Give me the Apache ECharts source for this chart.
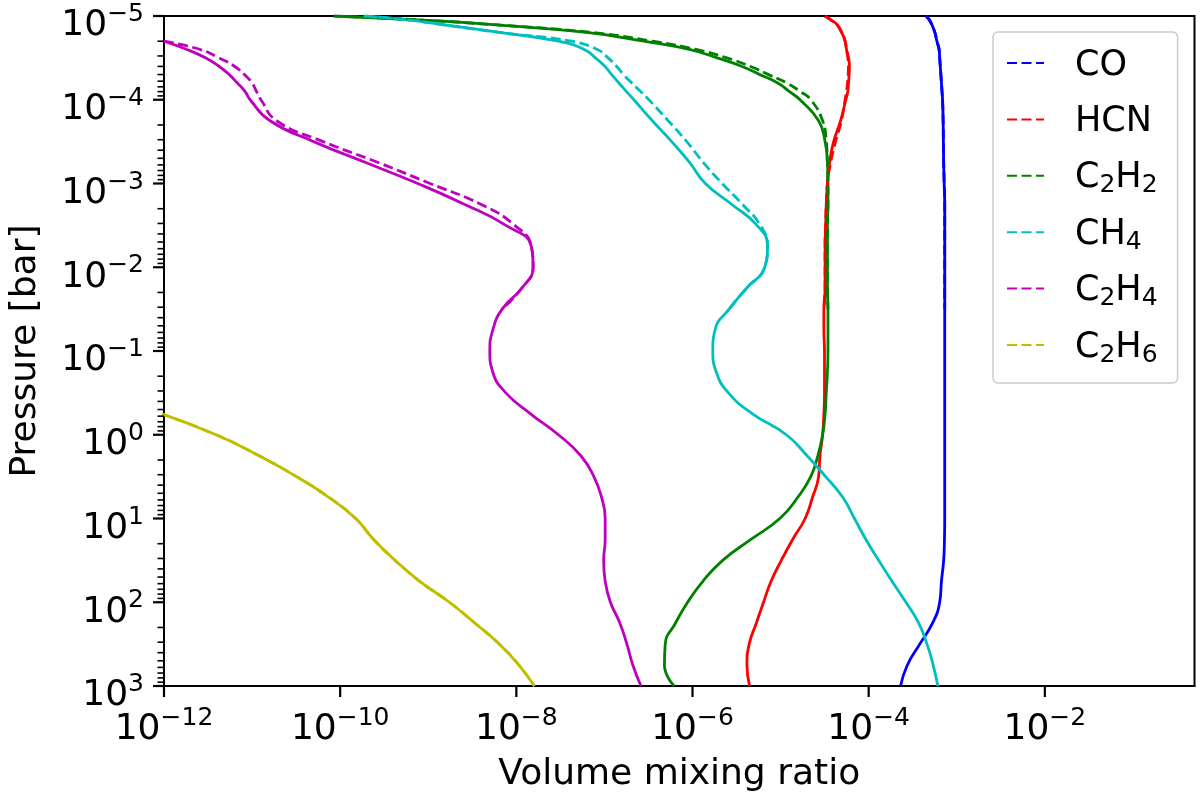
<!DOCTYPE html>
<html>
<head>
<meta charset="utf-8">
<script src="https://cdn.jsdelivr.net/npm/echarts@6/dist/echarts.min.js"></script>
<style>
  html, body { margin: 0; padding: 0; background: #fff; }
  #chart { width: 1200px; height: 798px; }
</style>
</head>
<body>
<div id="chart"></div>
<script>
// pressure levels [bar], shared by every profile (top of atmosphere first)
var pressure = [1e-5, 1.12e-5, 1.26e-5, 1.58e-5, 2.0e-5, 2.51e-5, 3.16e-5, 3.98e-5, 5.01e-5, 6.31e-5, 7.94e-5, 1e-4,
  1.78e-4, 3.16e-4, 5.62e-4, 1e-3, 1.78e-3, 3.16e-3, 5.62e-3, 1e-2, 1.78e-2, 3.16e-2, 5.62e-2, 0.1,
  0.178, 0.316, 0.562, 1, 1.78, 3.16, 5.62, 10, 17.8, 31.6, 56.2, 100, 178, 316, 562, 1000];

// volume mixing ratios, solid profiles (full column)
var coSolid = [4.5e-4, 4.9e-4, 5.2e-4, 5.65e-4, 5.95e-4, 6.3e-4, 6.4e-4, 6.5e-4, 6.6e-4, 6.7e-4, 6.8e-4, 6.9e-4,
  7.0e-4, 7.05e-4, 7.1e-4, 7.2e-4, 7.3e-4, 7.3e-4, 7.3e-4, 7.3e-4, 7.3e-4, 7.3e-4, 7.3e-4, 7.3e-4,
  7.3e-4, 7.3e-4, 7.3e-4, 7.3e-4, 7.3e-4, 7.3e-4, 7.3e-4, 7.3e-4, 7.25e-4, 7.1e-4, 6.7e-4, 6.4e-4,
  5.3e-4, 3.8e-4, 2.75e-4, 2.3e-4];
var hcnSolid = [3.2e-5, 3.75e-5, 4.35e-5, 4.95e-5, 5.4e-5, 5.6e-5, 5.9e-5, 6.05e-5, 6.0e-5, 5.9e-5, 5.8e-5, 5.5e-5,
  4.8e-5, 4.0e-5, 3.6e-5, 3.4e-5, 3.3e-5, 3.25e-5, 3.2e-5, 3.2e-5, 3.2e-5, 3.1e-5, 3.1e-5, 3.15e-5,
  3.15e-5, 3.15e-5, 3.1e-5, 3.0e-5, 2.8e-5, 2.7e-5, 2.3e-5, 1.9e-5, 1.37e-5, 1.02e-5, 7.8e-6, 6.4e-6,
  5.3e-6, 4.4e-6, 4.15e-6, 4.45e-6];
var c2h2Solid = [8.5e-11, 8.7e-10, 5.0e-9, 6.6e-8, 2.8e-7, 9.2e-7, 1.9e-6, 3.6e-6, 5.8e-6, 9.3e-6, 1.25e-5, 1.66e-5,
  2.7e-5, 3.2e-5, 3.4e-5, 3.45e-5, 3.45e-5, 3.4e-5, 3.4e-5, 3.4e-5, 3.4e-5, 3.45e-5, 3.45e-5, 3.45e-5,
  3.4e-5, 3.3e-5, 3.2e-5, 3.0e-5, 2.65e-5, 2.2e-5, 1.56e-5, 9.8e-6, 4.6e-6, 2.2e-6, 1.31e-6, 8.8e-7,
  6.4e-7, 4.9e-7, 4.8e-7, 6.2e-7];
var ch4Solid = [1.85e-10, 6.2e-10, 1.38e-9, 6.7e-9, 3.0e-8, 5.9e-8, 7.9e-8, 1.01e-7, 1.21e-7, 1.46e-7, 1.77e-7, 2.16e-7,
  3.5e-7, 5.8e-7, 9.3e-7, 1.4e-6, 2.8e-6, 5.4e-6, 7.1e-6, 6.6e-6, 4.1e-6, 2.6e-6, 1.8e-6, 1.7e-6,
  1.86e-6, 2.56e-6, 4.8e-6, 1.16e-5, 2.0e-5, 3.25e-5, 5.1e-5, 6.9e-5, 9.3e-5, 1.3e-4, 1.84e-4, 2.65e-4,
  3.7e-4, 4.6e-4, 5.4e-4, 6.1e-4];
var c2h4Solid = [null, null, null, null, 1.0e-12, 1.82e-12, 2.95e-12, 4.2e-12, 5.5e-12, 6.8e-12, 8.3e-12, 9.5e-12,
  1.6e-11, 5.0e-11, 1.95e-10, 7.6e-10, 2.6e-9, 7.6e-9, 1.48e-8, 1.55e-8, 1.15e-8, 6.9e-9, 5.4e-9, 5.0e-9,
  5.4e-9, 7.6e-9, 1.45e-8, 3.0e-8, 5.4e-8, 7.6e-8, 9.3e-8, 1.02e-7, 1.02e-7, 9.8e-8, 1.02e-7, 1.17e-7,
  1.5e-7, 1.8e-7, 2.1e-7, 2.6e-7];
var c2h6Solid = [null, null, null, null, null, null, null, null, null, null, null, null,
  null, null, null, null, null, null, null, null, null, null, null, null,
  null, null, 9.3e-13, 3.9e-12, 1.2e-11, 3.2e-11, 7.5e-11, 1.5e-10, 2.4e-10, 4.2e-10, 8.0e-10, 1.74e-9,
  3.4e-9, 6.4e-9, 1.07e-8, 1.6e-8];

// dashed profiles (upper part, where they separate from the solid ones)
var coDashed = [4.5e-4, 4.9e-4, 5.2e-4, 5.65e-4, 5.95e-4, 6.3e-4, 6.4e-4, 6.5e-4, 6.6e-4, 6.7e-4, 6.8e-4, 6.9e-4,
  7.0e-4, 7.05e-4, 7.1e-4, 7.2e-4, 7.3e-4, 7.3e-4, 7.3e-4, 7.3e-4, 7.3e-4, 7.3e-4];
var hcnDashed = [3.2e-5, 3.75e-5, 4.35e-5, 4.95e-5, 5.4e-5, 5.6e-5, 5.8e-5, 5.9e-5, 5.85e-5, 5.75e-5, 5.6e-5, 5.4e-5,
  4.9e-5, 4.2e-5, 3.7e-5, 3.4e-5, 3.3e-5, 3.25e-5, 3.2e-5, 3.2e-5, 3.2e-5, 3.1e-5];
var c2h2Dashed = [8.5e-11, 8.7e-10, 5.0e-9, 7.5e-8, 3.5e-7, 1.1e-6, 2.45e-6, 4.5e-6, 7.3e-6, 1.18e-5, 1.66e-5, 2.2e-5,
  3.0e-5, 3.3e-5, 3.4e-5, 3.45e-5, 3.45e-5, 3.4e-5, 3.4e-5, 3.4e-5, 3.4e-5, 3.45e-5];
var ch4Dashed = [1.85e-10, 6.2e-10, 1.38e-9, 6.7e-9, 4.2e-8, 8.3e-8, 1.1e-7, 1.37e-7, 1.65e-7, 2.05e-7, 2.56e-7, 3.2e-7,
  5.3e-7, 8.6e-7, 1.33e-6, 2.17e-6, 3.7e-6, 5.9e-6, 7.1e-6, 6.6e-6, 4.1e-6, 2.6e-6];
var c2h4Dashed = [null, null, null, null, 1.0e-12, 2.57e-12, 4.2e-12, 6.3e-12, 8.2e-12, 1.0e-11, 1.12e-11, 1.26e-11,
  1.9e-11, 6.4e-11, 2.7e-10, 1.05e-9, 4.0e-9, 9.6e-9, 1.48e-8, 1.55e-8, 1.15e-8, 6.9e-9];
var c2h6Dashed = [null, null, null, null, null, null, null, null, null, null, null, null,
  null, null, null, null, null, null, null, null, null, null, null, null,
  null, null, 9.3e-13, 3.9e-12, 1.2e-11, 3.2e-11, 7.5e-11, 1.5e-10, 2.4e-10, 4.2e-10, 8.0e-10, 1.74e-9,
  3.4e-9, 6.4e-9, 1.07e-8, 1.6e-8];

var species = ['CO', 'HCN', 'C2H2', 'CH4', 'C2H4', 'C2H6'];
var speciesLabels = ['CO', 'HCN', 'C{s|2}H{s|2}', 'CH{s|4}', 'C{s|2}H{s|4}', 'C{s|2}H{s|6}'];
var speciesColors = ['#0000ff', '#ff0000', '#008000', '#00bfbf', '#bf00bf', '#bfbf00'];
var solidData = [coSolid, hcnSolid, c2h2Solid, ch4Solid, c2h4Solid, c2h6Solid];
var dashedData = [coDashed, hcnDashed, c2h2Dashed, ch4Dashed, c2h4Dashed, c2h6Dashed];

// axis ranges / ticks (decade exponents)
var xMin = 1e-12, xMax = 0.5;
var yMin = 1e-5, yMax = 1e3;
var xTickExp = [-12, -10, -8, -6, -4, -2];
var yTickExp = [-5, -4, -3, -2, -1, 0, 1, 2, 3];

var FONT = 'DejaVu Sans';

function toPoints(vals) {
  var out = [];
  vals.forEach(function (v, i) {
    if (v == null) return;
    out.push([Math.log10(v), Math.log10(pressure[i])]);
  });
  return out;
}

function expLabel(v) {
  var e = Math.round(v);
  var s = e < 0 ? '\u2212' + Math.abs(e) : String(e);
  return '{b|10}{s|' + s + '}';
}

// log minor ticks 2..9 inside every pressure decade
var minorTicks = [];
for (var d = -5; d < 3; d++) {
  for (var k = 2; k <= 9; k++) minorTicks.push(d + Math.log10(k));
}

var tickRich = {
  b: { fontFamily: FONT, fontSize: 36, lineHeight: 42, verticalAlign: 'bottom', color: '#000' },
  s: { fontFamily: FONT, fontSize: 25, lineHeight: 25, verticalAlign: 'top', color: '#000' }
};

var series = [];
species.forEach(function (name, i) {
  series.push({
    name: name + ' solid', type: 'line', data: toPoints(solidData[i]),
    symbol: 'none', smooth: 0.5, color: speciesColors[i],
    lineStyle: { color: speciesColors[i], width: 2.8, type: 'solid' },
    emphasis: { disabled: true }, z: 2
  });
});
species.forEach(function (name, i) {
  series.push({
    name: name, type: 'line', data: toPoints(dashedData[i]),
    symbol: 'none', smooth: 0.5, color: speciesColors[i],
    lineStyle: { color: speciesColors[i], width: 2.8, type: [10, 4.5] },
    emphasis: { disabled: true }, z: 3
  });
});

// outward tick marks (matplotlib style), placed through the axis scales
function tickSeries(name, points, dx, dy, width) {
  return {
    name: name, type: 'custom', clip: false, silent: true, z: 5,
    data: points,
    renderItem: function (params, api) {
      var p = api.coord([api.value(0), api.value(1)]);
      return {
        type: 'line',
        shape: { x1: p[0] + dx, y1: p[1] + dy, x2: p[0], y2: p[1] },
        style: { stroke: '#000', lineWidth: width }
      };
    }
  };
}
series.push(tickSeries('x ticks', xTickExp.map(function (v) { return [v, Math.log10(yMax)]; }), 0, 11, 2.2));
series.push(tickSeries('y ticks', yTickExp.map(function (v) { return [Math.log10(xMin), v]; }), -11, 0, 2.2));
series.push(tickSeries('y minor ticks', minorTicks.map(function (v) { return [Math.log10(xMin), v]; }), -6.5, 0, 1.6));

var chart = echarts.init(document.getElementById('chart'));
chart.setOption({
  animation: false,
  backgroundColor: '#fff',
  textStyle: { fontFamily: FONT },
  grid: {
    left: 159.5, right: 5.5, top: 16, bottom: 112,
    show: true, borderColor: '#000', borderWidth: 2, containLabel: false
  },
  legend: {
    data: species,
    orient: 'vertical',
    left: 993, top: 32,
    padding: [8.5, 20, 15.5, 13],
    itemGap: 11.4, itemWidth: 37, itemHeight: 14,
    backgroundColor: 'rgba(255,255,255,0.8)',
    borderColor: '#cccccc', borderWidth: 1.5, borderRadius: 5,
    selectedMode: false,
    itemStyle: { opacity: 0 },
    formatter: function (name) { return speciesLabels[species.indexOf(name)]; },
    textStyle: {
      fontFamily: FONT, fontSize: 35, color: '#000', lineHeight: 40, padding: [5, 0, 0, 26],
      rich: { s: { fontFamily: FONT, fontSize: 25, lineHeight: 25, verticalAlign: 'bottom', color: '#000' } }
    }
  },
  xAxis: {
    type: 'value',
    min: Math.log10(xMin), max: Math.log10(xMax), interval: 2,
    name: 'Volume mixing ratio', nameLocation: 'middle', nameGap: 71,
    nameTextStyle: { fontFamily: FONT, fontSize: 36, color: '#000' },
    axisLine: { show: true, onZero: false, lineStyle: { color: '#000', width: 2 } },
    axisTick: { show: false },
    axisLabel: { customValues: xTickExp, margin: 20, formatter: expLabel, rich: tickRich },
    splitLine: { show: false }
  },
  yAxis: {
    type: 'value',
    min: Math.log10(yMin), max: Math.log10(yMax), interval: 1, inverse: true,
    name: 'Pressure [bar]', nameLocation: 'middle', nameGap: 120,
    nameTextStyle: { fontFamily: FONT, fontSize: 36, color: '#000' },
    axisLine: { show: true, onZero: false, lineStyle: { color: '#000', width: 2 } },
    axisTick: { show: false },
    axisLabel: { customValues: yTickExp, margin: 20, padding: [14, 0, 0, 0], formatter: expLabel, rich: tickRich },
    splitLine: { show: false }
  },
  series: series
});
</script>
</body>
</html>
